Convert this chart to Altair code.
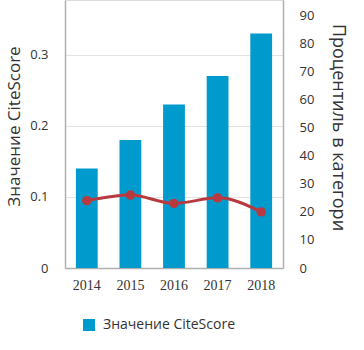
import altair as alt
import pandas as pd

years = ["2014", "2015", "2016", "2017", "2018"]
citescore = [0.14, 0.18, 0.23, 0.27, 0.33]
percentile = [24, 26, 23, 25, 20]
series_name = "Значение CiteScore"

df = pd.DataFrame({"year": years, "cs": citescore, "pct": percentile, "series": [series_name] * len(years)})

BAR = "#009ACD"
LINE = "#B83A40"
TXT = "#333333"
AX = "#B0B0B0"

x = alt.X("year:N", title=None,
          scale=alt.Scale(paddingInner=0.5, paddingOuter=0.25),
          axis=alt.Axis(labelAngle=0, labelFont="Liberation Serif", labelFontSize=14,
                        labelColor=TXT, labelPadding=10, ticks=False,
                        domainColor=AX, domainWidth=1.5))

bars = alt.Chart(df).mark_bar(color=BAR).encode(
    x=x,
    y=alt.Y("cs:Q", title="Значение CiteScore",
            scale=alt.Scale(domain=[0, 0.377], nice=False, zero=True),
            axis=alt.Axis(values=[0, 0.1, 0.2, 0.3],
                          labelExpr="datum.value == 0 ? '0' : format(datum.value, '.1f')",
                          labelFont="Open Sans", labelFontSize=13, labelColor=TXT,
                          labelPadding=17, ticks=False, grid=True, gridColor="#E3E3E3",
                          domainColor=AX, domainWidth=1.5,
                          titleFont="Open Sans", titleFontSize=17, titleFontWeight="normal",
                          titleColor=TXT, titleAngle=-90, titleX=-51, titleY=126,
                          titleAlign="center", titleBaseline="middle")),
    color=alt.Color("series:N", title=None,
                    scale=alt.Scale(domain=[series_name], range=[BAR]),
                    legend=alt.Legend(orient="none", legendX=17, legendY=318,
                                      symbolType="square", symbolSize=144, symbolStrokeWidth=0,
                                      labelFont="Open Sans", labelFontSize=14, labelColor=TXT,
                                      labelOffset=7))
)

line = alt.Chart(df).mark_line(color=LINE, strokeWidth=3, interpolate="monotone",
                               point=alt.OverlayMarkDef(color=LINE, size=90, filled=True, opacity=1)).encode(
    x=alt.X("year:N"),
    y=alt.Y("pct:Q", title="Процентиль в категори",
            scale=alt.Scale(domain=[0, 95.5], nice=False, zero=True),
            axis=alt.Axis(orient="right", values=list(range(0, 100, 10)),
                          labelFont="Open Sans", labelFontSize=13, labelColor=TXT,
                          labelPadding=16, ticks=False, grid=False,
                          domainColor=AX, domainWidth=1.5,
                          titleFont="Open Sans", titleFontSize=18, titleFontWeight="normal",
                          titleColor=TXT, titleAngle=90, titleX=54, titleY=127,
                          titleAlign="center", titleBaseline="middle"))
)

chart = alt.layer(bars, line).resolve_scale(y="independent").properties(
    width=218, height=268,
    autosize=alt.AutoSizeParams(type="none"),
    padding={"left": 65, "top": 0, "right": 81, "bottom": 82},
).configure_view(stroke=None).configure(background="white")

chart.save("out.html", embed_options={"renderer": "svg", "actions": False})
